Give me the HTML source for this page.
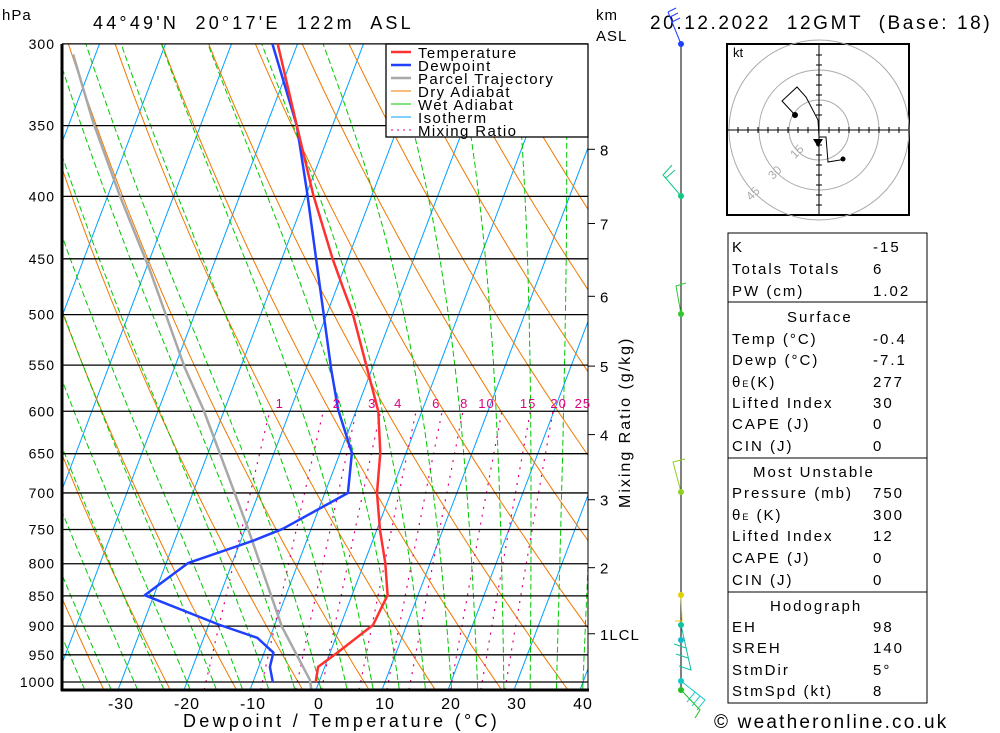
<!DOCTYPE html>
<html><head><meta charset="utf-8"><style>
body{margin:0;background:#fff;width:1000px;height:733px;overflow:hidden;font-family:"Liberation Sans",sans-serif}
svg{display:block}
text{font-family:"Liberation Sans",sans-serif}
</style></head><body>
<svg id="c" width="1000" height="733" viewBox="0 0 1000 733">
<defs><clipPath id="pc"><rect x="62" y="44" width="526" height="646"/></clipPath></defs>
<g id="bg" clip-path="url(#pc)"></g>
<g id="iso"></g>
<g id="prof" clip-path="url(#pc)"></g>
<g id="ax"></g>
</svg>
<script>
const pressures=[1000,972,946,898,849,799,751,700,649,600,553,499,475,450,399,350,300];
const temps=[-0.5,-1.0,1.1,4.9,5.4,3.2,0.5,-2.1,-3.9,-6.6,-10.8,-16.1,-19.1,-22.3,-28.9,-35.4,-43.0];
const dewP=[1000,972,946,920,898,849,799,766,749,700,649,598,555,450,397,350,300];
const dews=[-7.0,-8.3,-8.6,-11.9,-18.3,-31.4,-26.7,-18.1,-14.3,-6.5,-8.2,-12.8,-16.1,-24.8,-30.0,-35.4,-43.8];
const parcelP=[1015,996,901,746,598,553,460,400,348,306];
const parcelT=[-0.7,-1.5,-8.8,-19.8,-33.2,-38.4,-49.3,-58.1,-66.4,-73.4];
const isobarLabels=[300,350,400,450,500,550,600,650,700,750,800,850,900,950,1000];
const xTicks=[-30,-20,-10,0,10,20,30,40];
const mixRatios=[1,2,3,4,6,8,10,15,20,25];
const kmLabels=[8,7,6,5,4,3,2,1];
const kmP=[366,421,483,551,627,709,806,913];

const NS='http://www.w3.org/2000/svg';
function yP(p){return 682-530*Math.log(1000/p);}
function xT(T,p){return 319+6.6*T+0.38*(682-yP(p));}
function mk(tag,attrs,parent,txt){const e=document.createElementNS(NS,tag);for(const k in attrs)e.setAttribute(k,attrs[k]);if(txt!==undefined)e.textContent=txt;parent.appendChild(e);return e;}
const bg=document.getElementById('bg'),iso=document.getElementById('iso'),prof=document.getElementById('prof'),ax=document.getElementById('ax'),svg=document.getElementById('c');
function pathFrom(pts){return pts.map((q,i)=>(i?'L':'M')+q[0].toFixed(1)+' '+q[1].toFixed(1)).join('');}

for(let T=-130;T<=50;T+=10){
 const l=mk('line',{x1:xT(T,1030),y1:yP(1030),x2:xT(T,290),y2:yP(290),stroke:'#00a0ff','stroke-width':1},bg);
 
 
}
for(let th=220;th<=500;th+=10){
 const pts=[];for(let p=1030;p>=290;p-=10){pts.push([xT(th*Math.pow(p/1000,0.286)-273.15,p),yP(p)]);}
 const e=mk('path',{d:pathFrom(pts),fill:'none',stroke:'#f07800','stroke-width':1},bg);
 
 
}
function es(T){return 6.112*Math.exp(17.67*T/(T+243.5));}
function moist(T,p){const Tk=T+273.15;const rs=0.622*es(T)/(p-es(T));const Lv=2.5e6,Rd=287,cp=1004;return (Rd*Tk+Lv*rs)/(p*(cp+Lv*Lv*rs*0.622/(Rd*Tk*Tk)));}
for(let T0=-40;T0<=40;T0+=4){
 const pts=[];let T=T0;
 for(let p=1000;p>=290;p-=5){pts.push([xT(T,p),yP(p)]);T-=moist(T,p)*5;}
 let T2=T0;const low=[];for(let p=1000;p<=1030;p+=5){low.unshift([xT(T2,p),yP(p)]);T2+=moist(T2,p)*5;}
 const e=mk('path',{d:pathFrom(low.concat(pts)),fill:'none',stroke:'#00c800','stroke-width':1,'stroke-dasharray':'6,3'},bg);
 
 
}
mixRatios.forEach(w=>{
 const pts=[];for(let p=1030;p>=600;p-=10){const e=w*p/(622+w);const L=Math.log(e/6.112);const Td=243.5*L/(17.67-L);pts.push([xT(Td,p),yP(p)]);}
 const e=mk('path',{d:pathFrom(pts),fill:'none',stroke:'#e0007f','stroke-width':1.2,'stroke-dasharray':'2,6'},bg);
 
 
 const e6=w*600/(622+w),L6=Math.log(e6/6.112),Td6=243.5*L6/(17.67-L6);
 const x6=xT(Td6,600);
 const t=mk('text',{x:x6+10+(x6-270)*0.07,y:408,'font-size':13,fill:'#e0007f','text-anchor':'middle','letter-spacing':1},svg,String(w));
 
 
});
isobarLabels.forEach(p=>{
 const l=mk('line',{x1:62,y1:yP(p),x2:588,y2:yP(p),stroke:'#000','stroke-width':1.3},iso);
 
 
 const t=mk('text',{x:55,y:yP(p)+5,'font-size':14,'text-anchor':'end','letter-spacing':1},ax,String(p));
 
 
});
function profile(P,T,color,w,name){const pts=P.map((p,i)=>[xT(T[i],p),yP(p)]);const e=mk('path',{d:pathFrom(pts),fill:'none',stroke:color,'stroke-width':w,'stroke-linejoin':'round'},prof);
 
 }
profile(parcelP,parcelT,'#a8a8a8',2.5,'parcel-trajectory');
profile(dewP,dews,'#2040ff',2.5,'dewpoint-line');
profile(pressures,temps,'#ff3030',2.5,'temperature-line');
mk('line',{x1:62,y1:44,x2:62,y2:691,stroke:'#000','stroke-width':3},ax);
mk('line',{x1:61,y1:690,x2:589,y2:690,stroke:'#000','stroke-width':3},ax);
xTicks.forEach(T=>{const t=mk('text',{x:xT(T,1000),y:709,'font-size':16,'text-anchor':'middle','letter-spacing':1},ax,String(T));
 
 });
mk('line',{x1:588,y1:44,x2:588,y2:690,stroke:'#000','stroke-width':1},ax);
kmLabels.forEach((k,i)=>{const y=yP(kmP[i]);mk('line',{x1:588,y1:y,x2:595,y2:y,stroke:'#000'},ax);
 const t=mk('text',{x:600,y:y+6,'font-size':15,'letter-spacing':1},ax,k===1?'1LCL':String(k));
 
 });
</script>
<svg width="1000" height="733" style="position:absolute;left:0;top:0">
<text x="2" y="20" font-size="15" letter-spacing="1">hPa</text>
<text x="93" y="29" font-size="18" letter-spacing="3.2" xml:space="preserve">44°49'N  20°17'E  122m  ASL</text>
<text x="596" y="20" font-size="15" letter-spacing="1">km</text>
<text x="596" y="41" font-size="15" letter-spacing="1">ASL</text>
<text x="650" y="29" font-size="19" letter-spacing="2.6" xml:space="preserve">20.12.2022  12GMT  (Base: 18)</text>
<text x="183" y="727" font-size="18" letter-spacing="3.3">Dewpoint / Temperature (°C)</text>
<text transform="translate(630,508) rotate(-90)" font-size="16" letter-spacing="2">Mixing Ratio (g/kg)</text>
<g font-size="15" letter-spacing="1.4">
<rect x="386" y="44" width="202" height="93" fill="#fff" stroke="#000" stroke-width="1.3"/>
<line x1="391" y1="52" x2="411" y2="52" stroke="#ff3030" stroke-width="2.5"/><text x="418" y="58">Temperature</text>
<line x1="391" y1="65" x2="411" y2="65" stroke="#2040ff" stroke-width="2.5"/><text x="418" y="71">Dewpoint</text>
<line x1="391" y1="78" x2="411" y2="78" stroke="#a8a8a8" stroke-width="2.5"/><text x="418" y="84">Parcel Trajectory</text>
<line x1="391" y1="91" x2="411" y2="91" stroke="#f07800"/><text x="418" y="97">Dry Adiabat</text>
<line x1="391" y1="104" x2="411" y2="104" stroke="#00c800"/><text x="418" y="110">Wet Adiabat</text>
<line x1="391" y1="117" x2="411" y2="117" stroke="#00a0ff"/><text x="418" y="123">Isotherm</text>
<line x1="391" y1="130" x2="411" y2="130" stroke="#e0007f" stroke-dasharray="2,4"/><text x="418" y="136">Mixing Ratio</text>
</g>
<g>
<line x1="681" y1="44" x2="681" y2="690" stroke="#000"/>
<path d="M681 44 L668 12 M668 12 l8 -4 M670 17 l8 -4 M672 22 l8 -4" stroke="#2040ff" fill="none"/>
<circle cx="681" cy="44" r="3" fill="#2040ff"/>
<path d="M681 196 L663 175 l9 -10 M666 178 l9 -8" stroke="#10c880" fill="none"/>
<circle cx="681" cy="196" r="3" fill="#10c880"/>
<path d="M681 314 L676 286 l10 -3" stroke="#30c830" fill="none"/>
<circle cx="681" cy="314" r="3" fill="#30c830"/>
<path d="M681 492 L673 462 l12 -3" stroke="#90d020" fill="none"/>
<circle cx="681" cy="492" r="3" fill="#90d020"/>
<path d="M681 595 L682 621 l-7 0" stroke="#e0d000" fill="none"/>
<circle cx="681" cy="595" r="3" fill="#e0d000"/>
<path d="M681 625 L691 670 l-12 -4 M688 658 l-12 -4 M686 648 l-12 -4" stroke="#10c0a0" fill="none"/>
<circle cx="681" cy="625" r="3" fill="#10c0a0"/><circle cx="681" cy="640" r="3" fill="#10b8c8"/>
<path d="M681 681 L705 700 l-8 10 M700 696 l-8 10 M695 692 l-8 10" stroke="#10c8c8" fill="none"/>
<circle cx="681" cy="681" r="3" fill="#10c8c8"/>
<path d="M681 690 L700 710 l-5 8" stroke="#20c020" fill="none"/>
<circle cx="681" cy="690" r="3" fill="#20c020"/>
</g>
<g>
<rect x="727" y="44" width="182" height="171" fill="#fff" stroke="#000" stroke-width="2"/>
<circle cx="819" cy="130" r="30" fill="none" stroke="#aaa"/>
<circle cx="819" cy="130" r="60" fill="none" stroke="#aaa"/>
<circle cx="819" cy="130" r="90" fill="none" stroke="#aaa"/>
<line x1="728" y1="130" x2="908" y2="130" stroke="#000"/>
<line x1="819" y1="45" x2="819" y2="214" stroke="#000"/>
<path d="M738 127v6M748 127v6M758 127v6M768 127v6M778 127v6M788 127v6M798 127v6M808 127v6M829 127v6M839 127v6M849 127v6M859 127v6M869 127v6M879 127v6M889 127v6M899 127v6M816 55h6M816 65h6M816 75h6M816 85h6M816 95h6M816 105h6M816 115h6M816 145h6M816 155h6M816 165h6M816 175h6M816 185h6M816 195h6M816 205h6" stroke="#000"/>
<text x="733" y="57" font-size="13">kt</text>
<text x="790" y="157" font-size="12" fill="#aaa" transform="rotate(-45 795 152)">15</text>
<text x="768" y="178" font-size="12" fill="#aaa" transform="rotate(-45 773 173)">30</text>
<text x="746" y="199" font-size="12" fill="#aaa" transform="rotate(-45 751 194)">45</text>
<path d="M795 115 L782 101 L797 87 L806 97 L818 120 L819 137 L826 137 L828 162 L840 160 L843 159" fill="none" stroke="#000"/>
<circle cx="795" cy="115" r="3" fill="#000"/><circle cx="843" cy="159" r="2.5" fill="#000"/>
<path d="M813 139 L823 139 L818 147 Z" fill="#000"/>
</g>
<g font-size="15" letter-spacing="2">
<rect x="728" y="233" width="199" height="69" fill="none" stroke="#000"/>
<rect x="728" y="302" width="199" height="156" fill="none" stroke="#000"/>
<rect x="728" y="458" width="199" height="134" fill="none" stroke="#000"/>
<rect x="728" y="592" width="199" height="111" fill="none" stroke="#000"/>
<text x="732" y="252">K</text><text x="873" y="252">-15</text>
<text x="732" y="274">Totals Totals</text><text x="873" y="274">6</text>
<text x="732" y="296">PW (cm)</text><text x="873" y="296">1.02</text>
<text x="787" y="322">Surface</text>
<text x="732" y="344">Temp (°C)</text><text x="873" y="344">-0.4</text>
<text x="732" y="365">Dewp (°C)</text><text x="873" y="365">-7.1</text>
<text x="732" y="387">θ<tspan font-size="9">E</tspan>(K)</text><text x="873" y="387">277</text>
<text x="732" y="408">Lifted Index</text><text x="873" y="408">30</text>
<text x="732" y="429">CAPE (J)</text><text x="873" y="429">0</text>
<text x="732" y="451">CIN (J)</text><text x="873" y="451">0</text>
<text x="753" y="477">Most Unstable</text>
<text x="732" y="498">Pressure (mb)</text><text x="873" y="498">750</text>
<text x="732" y="520">θ<tspan font-size="9">E</tspan> (K)</text><text x="873" y="520">300</text>
<text x="732" y="541">Lifted Index</text><text x="873" y="541">12</text>
<text x="732" y="563">CAPE (J)</text><text x="873" y="563">0</text>
<text x="732" y="585">CIN (J)</text><text x="873" y="585">0</text>
<text x="770" y="611">Hodograph</text>
<text x="732" y="632">EH</text><text x="873" y="632">98</text>
<text x="732" y="653">SREH</text><text x="873" y="653">140</text>
<text x="732" y="675">StmDir</text><text x="873" y="675">5°</text>
<text x="732" y="696">StmSpd (kt)</text><text x="873" y="696">8</text>
</g>
<text x="714" y="728" font-size="19" letter-spacing="2.2">© weatheronline.co.uk</text>
</svg>
</body></html>
